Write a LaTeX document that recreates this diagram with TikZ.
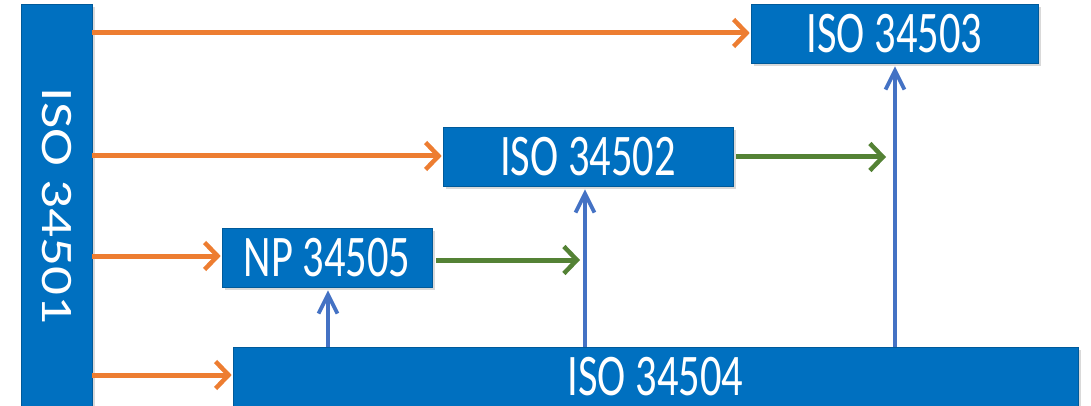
\documentclass[tikz,border=0pt]{standalone}
\usepackage{fontspec}
\setmainfont{Carlito}
\usetikzlibrary{arrows.meta,shadows}
\definecolor{boxblue}{HTML}{0070C0}
\definecolor{arrorange}{HTML}{ED7D31}
\definecolor{arrgreen}{HTML}{548235}
\definecolor{arrblue}{HTML}{4472C4}
\tikzset{
  box/.style={fill=boxblue, draw=boxblue!80!black, line width=0.6pt, inner sep=0pt, text=white,
    font=\fontsize{59}{64}\selectfont, drop shadow={opacity=0.3, shadow xshift=3pt, shadow yshift=-3pt}},
  orangearr/.style={-{Straight Barb[length=13pt,width=27pt,line width=4.5pt]}, draw=arrorange, line width=5pt},
  greenarr/.style={-{Straight Barb[length=13pt,width=27pt,line width=4.5pt]}, draw=arrgreen, line width=5pt},
  bluearr/.style={-{Straight Barb[length=19pt,width=19pt,line width=3.8pt]}, draw=arrblue, line width=4pt},
}
\newcommand{\cond}[1]{\scalebox{0.72}[1]{#1}}
\begin{document}
\begin{tikzpicture}[x=1pt,y=-1pt]
\useasboundingbox (0,0) rectangle (1091,406);
\begin{scope}
\clip (0,0) rectangle (1091,406);
\node[box, minimum width=71pt, minimum height=412pt] (n1) at (56.5,210) {};
\end{scope}
\node[text=white, rotate=-90, inner sep=0pt, font=\fontsize{45}{50}\selectfont] (n1t) at (57,206) {\scalebox{1.27}[1]{ISO 34501}};
\node[box, minimum width=845pt, minimum height=58.5pt] (n4) at (655.5,376.6) {\cond{ISO 34504}};
\node[box, minimum width=287pt, minimum height=59pt] (n3) at (894.5,33.5) {\cond{ISO 34503}};
\node[box, minimum width=290pt, minimum height=59pt] (n2) at (588,156.5) {\cond{ISO 34502}};
\node[box, minimum width=210pt, minimum height=59pt] (n5) at (327,257.5) {\cond{NP 34505}};

\coordinate (g1) at (580,0);
\coordinate (g2) at (886,0);
\coordinate (b1) at (328,0);
\coordinate (b2) at (585,0);
\coordinate (b3) at (895,0);

\draw[orangearr, shorten >=1pt] (n1.east |- 0,33) -- (n3.west |- 0,33);
\draw[orangearr, shorten >=1pt] (n1.east |- 0,156) -- (n2.west |- 0,156);
\draw[orangearr, shorten >=1pt] (n1.east |- 0,256) -- (n5.west |- 0,256);
\draw[orangearr, shorten >=1pt] (n1.east |- 0,375) -- (n4.west |- 0,375);

\draw[greenarr, shorten <=4pt] (n5.east |- 0,260) -- (g1 |- 0,260);
\draw[greenarr, shorten <=3pt] (n2.east |- 0,157) -- (g2 |- 0,157);

\draw[bluearr, shorten >=3pt] (b1 |- n4.north) -- (b1 |- n5.south);
\draw[bluearr, shorten >=3pt] (b2 |- n4.north) -- (b2 |- n2.south);
\draw[bluearr, shorten >=3pt] (b3 |- n4.north) -- (b3 |- n3.south);
\end{tikzpicture}
\end{document}
